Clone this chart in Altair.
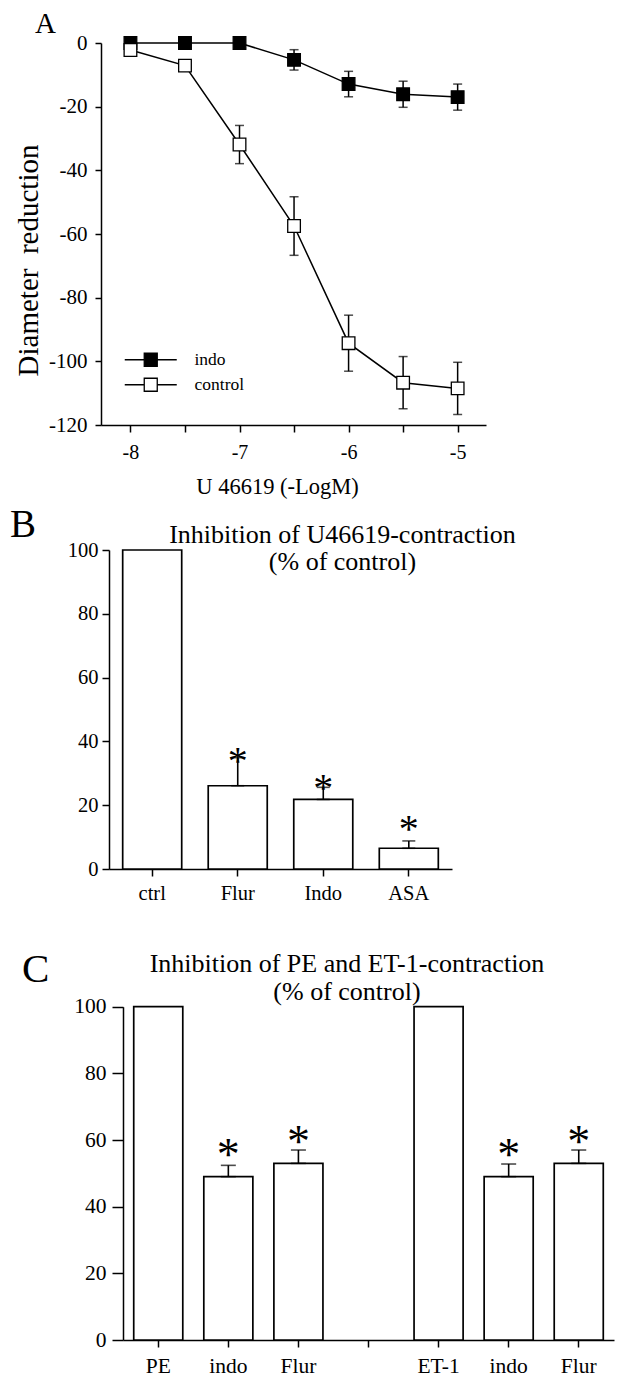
import altair as alt
import pandas as pd

FONT = "Liberation Serif"

# ---------------- Panel A data ----------------
conc = [-8, -7.5, -7, -6.5, -6, -5.5, -5]
indo_mean = [0, 0, 0, -5.3, -12.9, -16.1, -17.0]
indo_err = [0, 0, 0, 3.2, 4.0, 4.1, 4.1]
ctrl_mean = [-2.2, -7.1, -31.9, -57.5, -94.3, -106.7, -108.5]
ctrl_err = [0, 0, 6.0, 9.2, 8.8, 8.2, 8.2]
series_names = ["indo", "control"]
a_yticks = [-120, -100, -80, -60, -40, -20, 0]

# ---------------- Panel B data ----------------
b_cats = ["ctrl", "Flur", "Indo", "ASA"]
b_vals = [100, 26.1, 21.8, 6.5]
b_errs = [0, 8.8, 3.8, 2.3]
b_stars = [None, 35.7, 27.3, 14.4]
b_title = ["Inhibition of U46619-contraction", "(% of control)"]

# ---------------- Panel C data ----------------
c_keys = ["PE", "indo1", "Flur1", "gap", "ET-1", "indo2", "Flur2"]
c_labels = ["PE", "indo", "Flur", "", "ET-1", "indo", "Flur"]
c_vals = [100, 49.0, 53.0, None, 100, 49.0, 53.0]
c_errs = [0, 3.4, 4.0, None, 0, 3.8, 4.0]
c_stars = [None, 57.5, 61.5, None, None, 57.5, 61.5]
c_title = ["Inhibition of PE and ET-1-contraction", "(% of control)"]

pct_ticks = [0, 20, 40, 60, 80, 100]

# ================= Panel A =================
rowsA = []
for s, means, errs in [("indo", indo_mean, indo_err), ("control", ctrl_mean, ctrl_err)]:
    for x, m, e in zip(conc, means, errs):
        rowsA.append({"conc": x, "series": s, "mean": m, "lo": m - e, "hi": m + e, "err": e})
dfA = pd.DataFrame(rowsA)

xA_scale = alt.Scale(domain=[-8.27, -4.74], nice=False, zero=False)
yA_scale = alt.Scale(domain=[-120, 0], nice=False, zero=False)
xA_axis = alt.Axis(
    values=conc, labelExpr="datum.value % 1 == 0 ? '-' + abs(datum.value) : ''",
    title="U 46619 (-LogM)", tickSize=7, labelFontSize=20, labelBaseline="alphabetic",
    labelPadding=26, labelFlush=False, labelOverlap=False,
    titleFontSize=22.5, titleX=176, titleY=68, titleBaseline="alphabetic", titleAlign="center",
)
yA_axis = alt.Axis(
    values=a_yticks, labelExpr="datum.value == 0 ? '0' : '-' + abs(datum.value)",
    title="Diameter\u00a0 reduction", tickSize=6, labelPadding=8, labelFontSize=21,
    titleFontSize=29, titleX=-64, titleY=217, titleBaseline="alphabetic", titleAlign="center",
)
xA = alt.X("conc:Q", scale=xA_scale, axis=xA_axis)
yA = alt.Y("mean:Q", scale=yA_scale, axis=yA_axis)

baseA = alt.Chart(dfA)
linesA = baseA.mark_line(color="black", strokeWidth=1.5).encode(x=xA, y=yA, detail="series:N")
errA = baseA.transform_filter("datum.err > 0").mark_errorbar(
    ticks=True, size=9, thickness=1.5, color="black"
).encode(x=xA, y=alt.Y("lo:Q", scale=yA_scale, axis=yA_axis), y2="hi:Q")
ptsA = baseA.mark_square(size=160, stroke="black", strokeWidth=1.3, opacity=1).encode(
    x=xA, y=yA,
    fill=alt.Fill(
        "series:N",
        scale=alt.Scale(domain=series_names, range=["black", "white"]),
        legend=alt.Legend(
            title=None, orient="none", legendX=41, legendY=308, padding=0,
            symbolType="M-4,0H-1M1,0H4M-1,-1H1V1H-1Z", symbolSize=169,
            symbolStrokeColor="black", symbolStrokeWidth=1.3, symbolOpacity=1,
            labelFont=FONT, labelFontSize=17.5, labelColor="black", labelOffset=35,
            rowPadding=6,
        ),
    ),
)
letterA = alt.Chart(pd.DataFrame({"t": ["A"]})).mark_text(
    font=FONT, fontSize=29, align="left", baseline="alphabetic", color="black"
).encode(text="t:N", x=alt.value(-66), y=alt.value(-10))

chartA = alt.layer(linesA, errA, ptsA, letterA).properties(width=385, height=382)

# ================= Panel B =================
dfB = pd.DataFrame({"cat": b_cats, "val": b_vals, "err": b_errs, "star": b_stars})
dfB["hi"] = dfB["val"] + dfB["err"]
dfB["mark"] = ["*" if s is not None else "" for s in b_stars]

xB_scale = alt.Scale(domain=b_cats, range=[8, 351], paddingInner=0.31, paddingOuter=0.16)
yB_scale = alt.Scale(domain=[0, 100], nice=False)
xB_axis = alt.Axis(title=None, tickSize=7, labelFontSize=20.5, labelBaseline="alphabetic",
                   labelPadding=23, labelAngle=0)
yB_axis = alt.Axis(title=None, values=pct_ticks, tickSize=7, labelPadding=4,
                   labelFontSize=20.5, offset=-8)
xB = alt.X("cat:N", scale=xB_scale, axis=xB_axis, sort=None)

baseB = alt.Chart(dfB)
barsB = baseB.mark_bar(fill="white", stroke="black", strokeWidth=1.7).encode(
    x=xB, y=alt.Y("val:Q", scale=yB_scale, axis=yB_axis))
errB = baseB.transform_filter("datum.err > 0").mark_errorbar(
    ticks=True, size=13, thickness=1.6, color="black"
).encode(x=xB, y=alt.Y("val:Q", scale=yB_scale, axis=yB_axis), y2="hi:Q")
starB = baseB.transform_filter("datum.star != null").mark_text(
    font=FONT, fontSize=40, baseline="middle", dy=7, color="black"
).encode(x=xB, y=alt.Y("star:Q", scale=yB_scale, axis=yB_axis), text="mark:N")
titleB1 = alt.Chart(pd.DataFrame({"t": [b_title[0]]})).mark_text(
    font=FONT, fontSize=26, align="center", baseline="alphabetic", color="black"
).encode(text="t:N", x=alt.value(241.5), y=alt.value(-7.3))
titleB2 = alt.Chart(pd.DataFrame({"t": [b_title[1]]})).mark_text(
    font=FONT, fontSize=26, align="center", baseline="alphabetic", color="black"
).encode(text="t:N", x=alt.value(241.5), y=alt.value(20))
letterB = alt.Chart(pd.DataFrame({"t": ["B"]})).mark_text(
    font=FONT, fontSize=39, align="left", baseline="alphabetic", color="black"
).encode(text="t:N", x=alt.value(-91), y=alt.value(-13))

chartB = alt.layer(barsB, errB, starB, titleB1, titleB2, letterB).properties(width=351, height=319)

# ================= Panel C =================
rowsC = []
for k, v, e, s in zip(c_keys, c_vals, c_errs, c_stars):
    if v is None:
        continue
    rowsC.append({"cat": k, "val": v, "err": e, "hi": v + e, "star": s,
                  "mark": "*" if s is not None else ""})
dfC = pd.DataFrame(rowsC)

label_expr = "''"
for k, lab in zip(reversed(c_keys), reversed(c_labels)):
    label_expr = f"datum.value == '{k}' ? '{lab}' : ({label_expr})"

xC_scale = alt.Scale(domain=c_keys, range=[22, 513], paddingInner=0.3, paddingOuter=0.153)
yC_scale = alt.Scale(domain=[0, 100], nice=False, range=[346, 12.7])
xC_axis = alt.Axis(title=None, tickSize=7, labelFontSize=21.5, labelBaseline="alphabetic",
                   labelPadding=25.7, labelAngle=0, labelExpr=label_expr)
yC_axis = alt.Axis(title=None, values=pct_ticks, tickSize=11, labelPadding=6,
                   labelFontSize=21.5, offset=-22)
xC = alt.X("cat:N", scale=xC_scale, axis=xC_axis, sort=None)

baseC = alt.Chart(dfC)
barsC = baseC.mark_bar(fill="white", stroke="black", strokeWidth=1.7).encode(
    x=xC, y=alt.Y("val:Q", scale=yC_scale, axis=yC_axis))
errC = baseC.transform_filter("datum.err > 0").mark_errorbar(
    ticks=True, size=15, thickness=1.6, color="black"
).encode(x=xC, y=alt.Y("val:Q", scale=yC_scale, axis=yC_axis), y2="hi:Q")
starC = baseC.transform_filter("datum.star != null").mark_text(
    font=FONT, fontSize=46, baseline="middle", dy=8, color="black"
).encode(x=xC, y=alt.Y("star:Q", scale=yC_scale, axis=yC_axis), text="mark:N")
titleC1 = alt.Chart(pd.DataFrame({"t": [c_title[0]]})).mark_text(
    font=FONT, fontSize=26, align="center", baseline="alphabetic", color="black"
).encode(text="t:N", x=alt.value(246), y=alt.value(-22.3))
titleC2 = alt.Chart(pd.DataFrame({"t": [c_title[1]]})).mark_text(
    font=FONT, fontSize=26, align="center", baseline="alphabetic", color="black"
).encode(text="t:N", x=alt.value(246), y=alt.value(6))
letterC = alt.Chart(pd.DataFrame({"t": ["C"]})).mark_text(
    font=FONT, fontSize=41, align="left", baseline="alphabetic", color="black"
).encode(text="t:N", x=alt.value(-79), y=alt.value(-12))

chartC = alt.layer(barsC, errC, starC, titleC1, titleC2, letterC).properties(width=513, height=346)

chart = alt.vconcat(chartA, chartB, chartC, spacing=125, bounds="flush").properties(
    padding={"left": 2, "top": 2, "right": 5, "bottom": 5}
).configure_view(stroke=None).configure_axis(
    domainColor="black", tickColor="black", labelColor="black", titleColor="black",
    labelFont=FONT, titleFont=FONT, titleFontWeight="normal", grid=False,
    domainWidth=1.5, tickWidth=1.5,
)

chart.save("out.html", embed_options={"renderer": "svg", "actions": False})
